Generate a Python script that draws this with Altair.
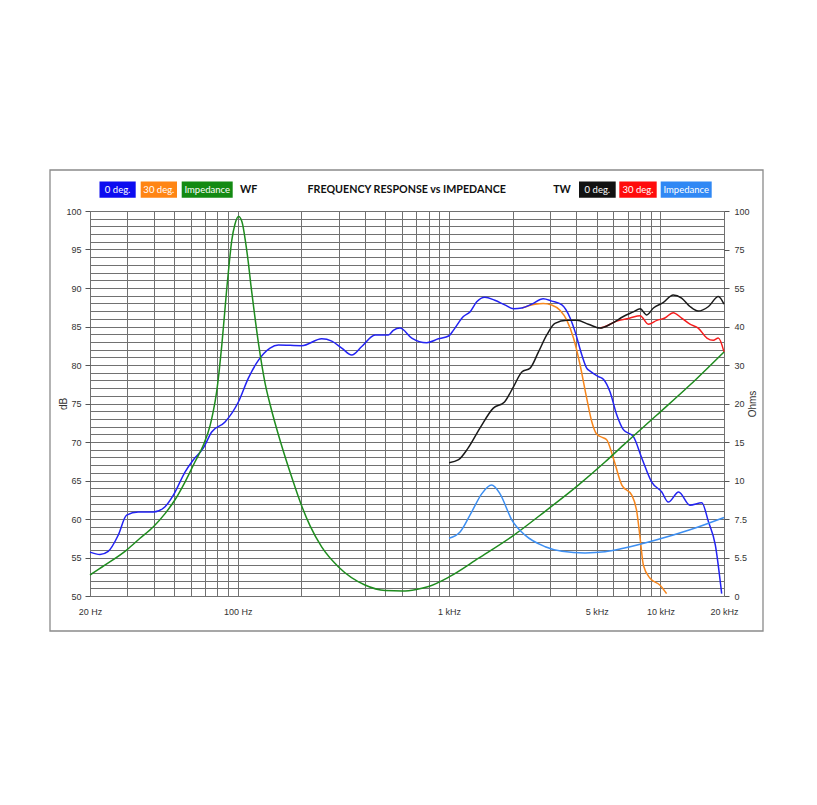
import altair as alt
import pandas as pd

# ---------------- measured curves ----------------
# Woofer on axis (0 deg.) – SPL in dB
wf0_freq = [20, 22.3, 24.4, 27.2, 29.8, 33.8, 39.9, 45.3, 49.6, 56.3, 61.7, 68.7, 75.3,
            87.1, 100.7, 112.3, 125.2, 142.2, 155.7, 200.9, 249.8, 278.6, 310.6, 346.4,
            386.4, 446.6, 516.2, 545, 586, 666, 784, 890, 1000, 1048, 1169, 1257, 1352,
            1477, 1646, 1835, 2020, 2210, 2460, 2790, 3060, 3420, 3740, 3950, 4250, 4480,
            4650, 5090, 5400, 5780, 6220, 6680, 7450, 8170, 9100, 10150, 10900, 12200,
            13800, 15700, 16900, 18200, 19500]
wf0_db = [55.7, 55.4, 55.8, 57.9, 60.5, 60.9, 60.9, 61.6, 63.1, 66.1, 67.7, 69.2, 71.3,
          72.6, 75.2, 78.3, 80.6, 82.2, 82.6, 82.5, 83.4, 83.1, 82.2, 81.3,
          82.4, 83.9, 83.9, 84.5, 84.8, 83.5, 82.9, 83.4, 83.8, 84.5, 86.3, 86.9, 88.2,
          88.8, 88.4, 87.8, 87.3, 87.4, 87.9, 88.6, 88.3, 87.8, 86.1, 84.3, 81.3, 79.6,
          79.2, 78.5, 78.1, 76.5, 73.5, 71.6, 70.7, 67.9, 64.8, 63.5, 62.2, 63.5,
          61.8, 62.1, 59.6, 56.6, 50.3]

# Woofer off axis (30 deg.)
wf30_freq = [2210, 2550, 2790, 3060, 3350, 3610, 3880, 4170, 4480, 4740, 5000, 5300,
             5570, 5990, 6570, 7320, 7730, 8020, 8310, 8940, 9970, 10700]
wf30_db = [87.4, 87.9, 88.0, 87.8, 87.1, 85.8, 83.5, 80.0, 75.7, 72.6, 71.0, 70.6,
           70.3, 67.9, 64.4, 63.1, 61.0, 57.5, 54.0, 52.3, 51.4, 50.3]

# Tweeter on axis (0 deg.)
tw0_freq = [1000, 1110, 1230, 1400, 1620, 1830, 2020, 2210, 2420, 2650, 2900, 3170,
            3610, 4020, 4560, 5180, 5890, 6680, 7450, 8020, 8620, 9270, 10300, 11500,
            12600, 13800, 15100, 16900, 18800, 20000]
tw0_db = [67.3, 67.7, 69.2, 71.8, 74.4, 75.2, 77.2, 79.1, 79.6, 81.7, 83.9, 85.4,
          85.8, 85.8, 85.3, 84.8, 85.4, 86.3, 86.9, 87.3, 86.5, 87.4, 88.1, 89.1,
          88.7, 87.6, 87.0, 87.6, 88.9, 87.9]

# Tweeter off axis (30 deg.)
tw30_freq = [5180, 5370, 6220, 7190, 8020, 8770, 9620, 10500, 11500, 12600, 13800,
             15100, 16600, 17800, 18800, 20000]
tw30_db = [84.8, 84.9, 85.7, 86.1, 86.4, 85.3, 85.8, 86.1, 86.8, 86.1, 85.3,
           84.8, 83.5, 83.2, 83.5, 81.7]

# Woofer impedance in ohms
wf_imp_freq = [20, 23.5, 29.9, 34.5, 39.9, 45.3, 50.5, 56.3, 62.8, 68.8, 74, 76.4,
               79.6, 81.5, 84, 86.4, 88.7, 91.3, 93.7, 97.1, 100.9, 104.8, 109.1, 112.6,
               115.4, 118.6, 125.7, 134.7, 142.9, 160, 180, 200, 220, 250, 300, 400,
               500, 600, 700, 800, 1000, 1380, 2020, 2850, 4090, 5470, 6680, 9620,
               13800, 20000]
wf_imp_ohm = [3.0, 4.4, 5.9, 6.5, 7.1, 7.85, 8.75, 9.9, 12.44, 14.6, 17.13, 18.81,
              23.3, 27.9, 34.9, 43.7, 54.5, 68.6, 80.7, 91.6, 96.4, 92.9, 79.2, 67,
              56.6, 48.4, 35.2, 25.3, 19.68, 14.87, 10.45, 8.41, 7.14, 6.04, 4.15, 1.57,
              0.78, 0.71, 0.93, 1.35, 2.72, 5.4, 6.65, 8.0, 9.7, 12.4, 14.6, 18.5,
              24.8, 33.4]

# Tweeter impedance in ohms
tw_imp_freq = [1000, 1130, 1280, 1430, 1590, 1740, 1980, 2290, 2850, 3420, 4400, 5470,
               6680, 9620, 13800, 20000]
tw_imp_ohm = [6.5, 6.84, 7.97, 9.15, 9.7, 9.15, 7.46, 6.66, 6.06, 5.82, 5.74, 5.8,
              5.98, 6.42, 6.94, 7.6]

# ---------------- axes ----------------
db_ticks = list(range(50, 101))
ohm_ticks = [0, 5.5, 7.5, 10, 15, 20, 30, 40, 55, 75, 100]
x_grid = [20, 30, 40, 50, 60, 70, 80, 90, 100, 200, 300, 400, 500, 600, 700, 800, 900,
          1000, 2000, 3000, 4000, 5000, 6000, 7000, 8000, 9000, 10000, 20000]
x_label_values = [20, 100, 1000, 5000, 10000, 20000]
x_label_text = ["20 Hz", "100 Hz", "1 kHz", "5 kHz", "10 kHz", "20 kHz"]

W, H = 634, 385
GRID = "#717171"
AXFONT = "Liberation Sans"

x_scale = alt.Scale(type="log", domain=[20, 20000], nice=False)
db_scale = alt.Scale(domain=[50, 100], nice=False, zero=False)
# the ohm axis is piecewise: each labelled value sits on an equal step
ohm_scale = alt.Scale(domain=ohm_ticks, range=[H - i * H / 10 for i in range(11)])

x_label_expr = " : ".join(
    f"datum.value == {v} ? '{t}'" for v, t in zip(x_label_values, x_label_text)
) + " : ''"

x_axis = alt.Axis(values=x_grid, labelExpr=x_label_expr, grid=True, gridColor=GRID,
                  gridWidth=1, ticks=False, domain=False, title=None,
                  labelOverlap=False, labelFlush=False, labelFont=AXFONT,
                  labelFontSize=9, labelColor="#333333", labelPadding=11)

db_axis = alt.Axis(values=db_ticks, orient="left", grid=True, gridColor=GRID,
                   gridWidth=1, domain=False,
                   labelExpr="datum.value % 5 == 0 ? datum.label : ''",
                   tickOpacity={"condition": {"test": "datum.value % 5 == 0", "value": 1},
                                "value": 0},
                   tickColor="#555555", tickSize=5, labelPadding=4, labelOverlap=False,
                   labelFont=AXFONT, labelFontSize=9, labelColor="#333333",
                   title="dB", titleFont=AXFONT, titleFontSize=10,
                   titleFontWeight="normal", titleColor="#333333",
                   titleAngle=270, titleX=-27, titleY=H / 2, titleBaseline="middle",
                   titleAlign="center")

ohm_axis = alt.Axis(values=ohm_ticks, orient="right", grid=False, domain=False,
                    format=".3~r", tickColor="#555555", tickSize=5, labelPadding=5,
                    labelOverlap=False, labelFont=AXFONT, labelFontSize=9,
                    labelColor="#333333", title="Ohms", titleFont=AXFONT,
                    titleFontSize=10, titleFontWeight="normal", titleColor="#333333",
                    titleAngle=270, titleX=28, titleY=H / 2, titleBaseline="middle",
                    titleAlign="center")


def curve(freq, vals, color, field, scale, axis):
    df = pd.DataFrame({"Frequency": freq, field: vals})
    return alt.Chart(df).mark_line(color=color, strokeWidth=1.5,
                                   interpolate="monotone").encode(
        x=alt.X("Frequency:Q", scale=x_scale, axis=x_axis),
        y=alt.Y(f"{field}:Q", scale=scale, axis=axis),
    )


spl = alt.layer(
    curve(wf30_freq, wf30_db, "#f7861c", "dB", db_scale, db_axis),
    curve(wf0_freq, wf0_db, "#2323f2", "dB", db_scale, db_axis),
    curve(tw30_freq, tw30_db, "#f51d1d", "dB", db_scale, db_axis),
    curve(tw0_freq, tw0_db, "#1a1a1a", "dB", db_scale, db_axis),
)
imp = alt.layer(
    curve(wf_imp_freq, wf_imp_ohm, "#1f8c1f", "Ohms", ohm_scale, ohm_axis),
    curve(tw_imp_freq, tw_imp_ohm, "#3d8ff2", "Ohms", ohm_scale, ohm_axis),
)

# ---------------- header and frame ----------------
one = pd.DataFrame({"k": [0]})
OX, OY = 90, 211  # page position of the plot origin

decor = [
    alt.Chart(one).mark_rect(fillOpacity=0, stroke="#8a8a8a", strokeWidth=1.3).encode(
        x=alt.value(50 - OX), x2=alt.value(763 - OX),
        y=alt.value(170 - OY), y2=alt.value(631 - OY))
]

legend_boxes = [
    ("0 deg.", "#0c0cf0", 99.5, 135.7),
    ("30 deg.", "#ff8514", 140.7, 177.0),
    ("Impedance", "#138a13", 181.7, 232.7),
    ("0 deg.", "#121212", 579.0, 615.7),
    ("30 deg.", "#ff0c0c", 619.3, 656.7),
    ("Impedance", "#3088f4", 660.7, 711.7),
]
for label, fill, x0, x1 in legend_boxes:
    decor.append(alt.Chart(one).mark_rect(fill=fill).encode(
        x=alt.value(x0 - OX), x2=alt.value(x1 - OX),
        y=alt.value(181.5 - OY), y2=alt.value(197.7 - OY)))
    decor.append(alt.Chart(one).mark_text(
        text=label, color="white", font="Lato", fontSize=9.5, align="center",
        baseline="middle").encode(
        x=alt.value((x0 + x1) / 2 - OX), y=alt.value(189.8 - OY)))

for label, cx in [("WF", 248.7), ("FREQUENCY RESPONSE vs IMPEDANCE", 406.7), ("TW", 562.0)]:
    decor.append(alt.Chart(one).mark_text(
        text=label, color="#111111", font="Lato", fontSize=10.7, fontWeight="bold",
        align="center", baseline="middle").encode(
        x=alt.value(cx - OX), y=alt.value(189.8 - OY)))

chart = alt.layer(spl, imp, *decor).resolve_scale(y="independent").properties(
    width=W, height=H,
    padding={"left": OX, "top": OY, "right": 817 - OX - W, "bottom": 805 - OY - H},
    autosize=alt.AutoSizeParams(type="none"),
).configure_view(stroke=None).configure(background="white")

chart.save("out.html", embed_options={"renderer": "svg", "actions": False})
